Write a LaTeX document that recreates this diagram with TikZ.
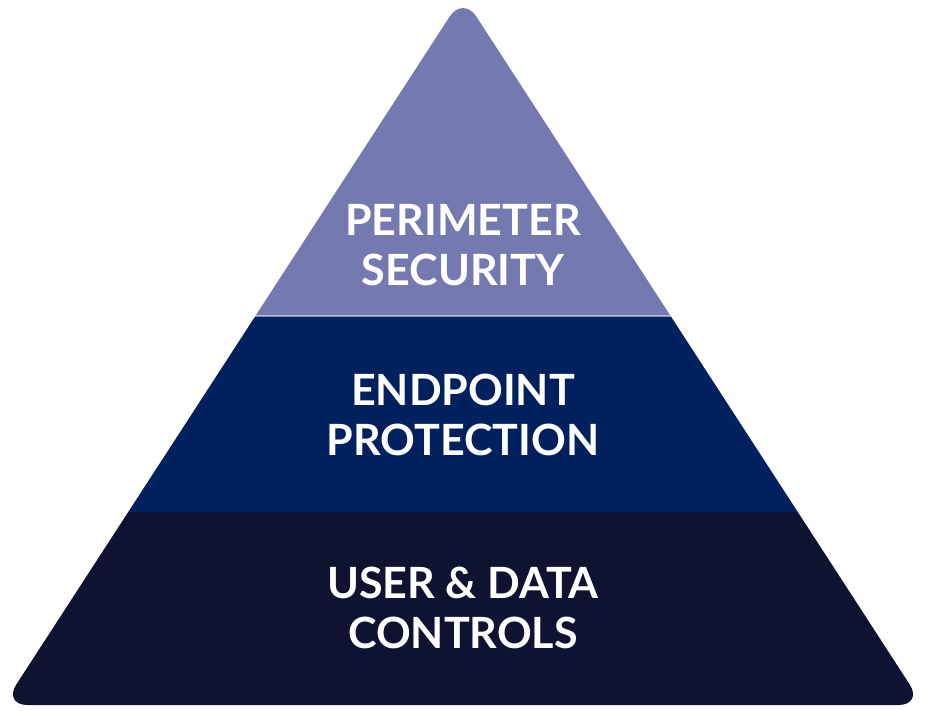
\documentclass[tikz,border=0pt]{standalone}
\usepackage{fontspec}
\setmainfont{Lato}
\usetikzlibrary{positioning}
\definecolor{perimeter}{RGB}{116,121,176}
\definecolor{endpoint}{RGB}{0,33,94}
\definecolor{userdata}{RGB}{16,18,50}
\tikzset{
  layer/.style={text=white,align=center,font=\bfseries\fontsize{24.5}{28.5}\selectfont},
}
\begin{document}
\begin{tikzpicture}[x=0.02cm,y=-0.02cm]
      \useasboundingbox (0,0) rectangle (928,710);
      \def \Bands{
        perimeter/-10/316,
        endpoint/316/512,
        userdata/512/720}
      \begin{scope}
        \clip[rounded corners=14pt] (463,-4) -- (923,705) -- (3,705) -- cycle;
        \foreach \col / \top / \bot in \Bands{
          \fill[\col] (0,\top) rectangle (928,\bot);
        }
        \draw[white,opacity=0.5,line width=0.6pt] (0,316) -- (928,316);
      \end{scope}
      \node[layer] (top) at (463,245) {PERIMETER\\SECURITY};
      \node[layer] (mid) at (463,415) {ENDPOINT\\PROTECTION};
      \node[layer] (base) at (463,608) {USER \& DATA\\CONTROLS};
    \end{tikzpicture}
\end{document}
